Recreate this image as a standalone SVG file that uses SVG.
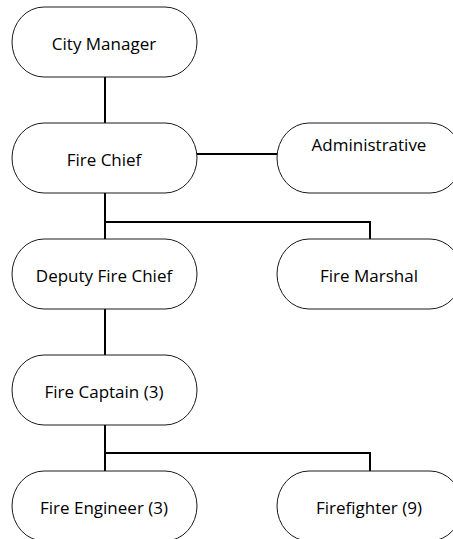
<svg xmlns="http://www.w3.org/2000/svg" width="453" height="539" viewBox="0 0 453 539">
<style>
.box{fill:#fff;stroke:#1a1a1a;stroke-width:1}
.lbl{font-family:"Open Sans","Noto Sans",sans-serif;font-size:17px;fill:#000;text-anchor:middle}
.con{fill:none;stroke:#000;stroke-width:2}
</style>
<rect width="453" height="539" fill="#fff"/>
<g id="connectors">
<line class="con" x1="105" y1="77" x2="105" y2="123"/>
<line class="con" x1="197" y1="154" x2="277" y2="154"/>
<line class="con" x1="105" y1="193" x2="105" y2="239"/>
<polyline class="con" points="105,222 370,222 370,239"/>
<line class="con" x1="105" y1="309" x2="105" y2="355"/>
<line class="con" x1="105" y1="425" x2="105" y2="471"/>
<polyline class="con" points="105,453 370,453 370,471"/>
</g>
<g id="city-manager"><rect class="box" x="12" y="7" width="185" height="70" rx="32" ry="35"/><text class="lbl" x="104" y="50">City Manager</text></g>
<g id="fire-chief"><rect class="box" x="12" y="123" width="185" height="70" rx="32" ry="35"/><text class="lbl" x="104" y="166">Fire Chief</text></g>
<g id="administrative"><rect class="box" x="277" y="123" width="185" height="70" rx="32" ry="35"/><text class="lbl" x="369" y="151">Administrative</text></g>
<g id="deputy-fire-chief"><rect class="box" x="12" y="239" width="185" height="70" rx="32" ry="35"/><text class="lbl" x="104" y="282">Deputy Fire Chief</text></g>
<g id="fire-marshal"><rect class="box" x="277" y="239" width="185" height="70" rx="32" ry="35"/><text class="lbl" x="369" y="282">Fire Marshal</text></g>
<g id="fire-captain"><rect class="box" x="12" y="355" width="185" height="70" rx="32" ry="35"/><text class="lbl" x="104" y="398">Fire Captain (3)</text></g>
<g id="fire-engineer"><rect class="box" x="12" y="471" width="185" height="70" rx="32" ry="35"/><text class="lbl" x="104" y="514">Fire Engineer (3)</text></g>
<g id="firefighter"><rect class="box" x="277" y="471" width="185" height="70" rx="32" ry="35"/><text class="lbl" x="369" y="514">Firefighter (9)</text></g>
</svg>
